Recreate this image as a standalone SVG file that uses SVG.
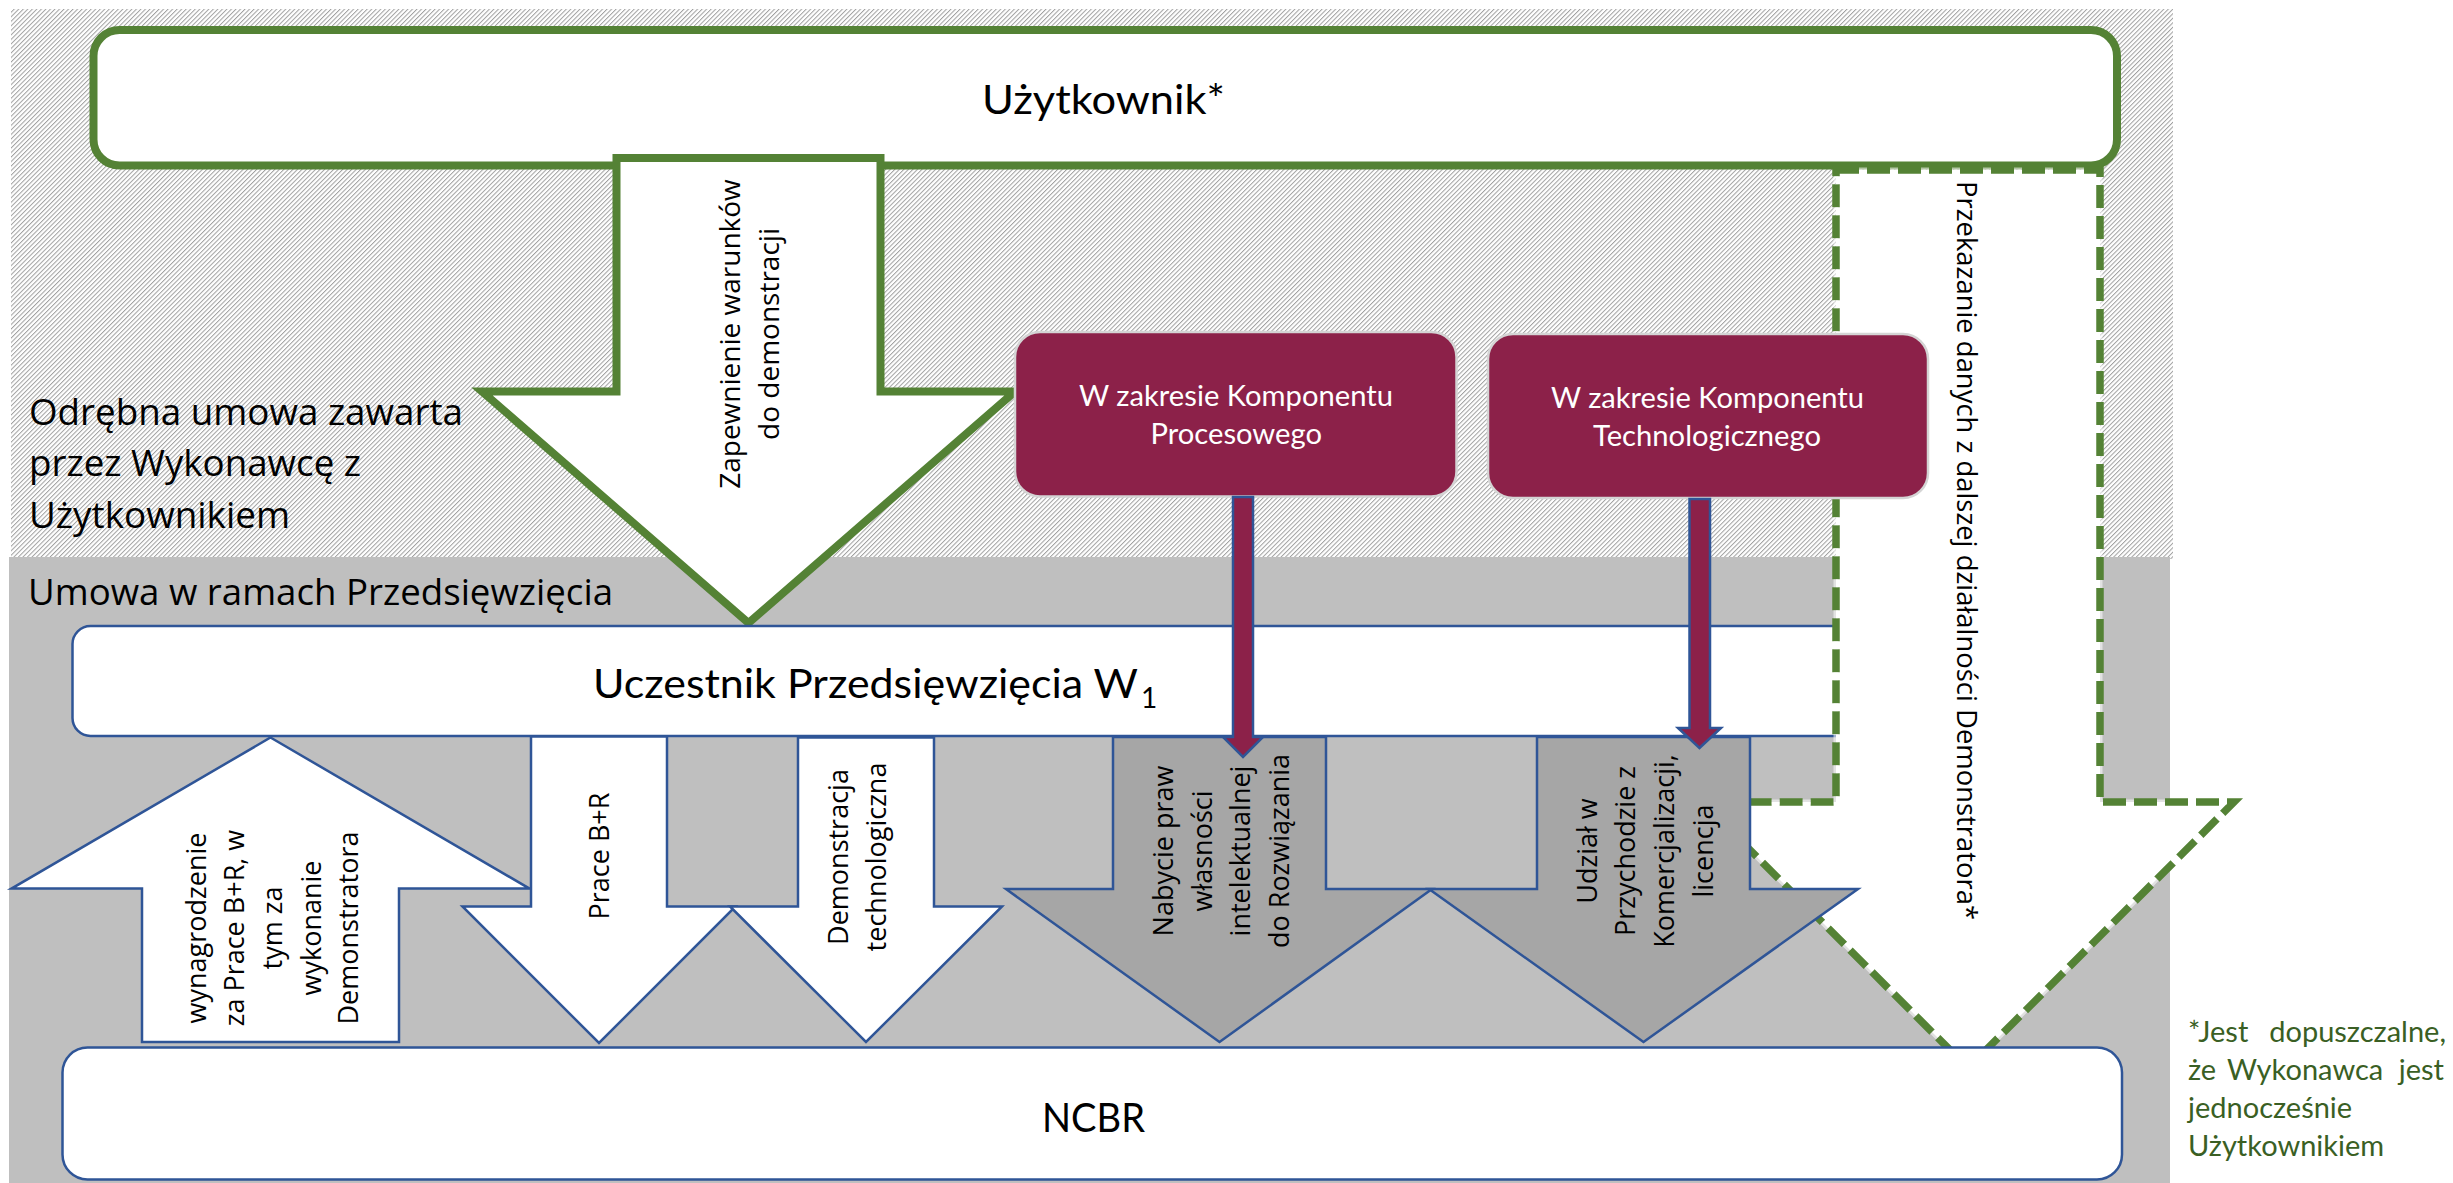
<svg xmlns="http://www.w3.org/2000/svg" width="2453" height="1183" viewBox="0 0 2453 1183">
<defs>
<pattern id="hatch" width="3.2" height="3.2" patternUnits="userSpaceOnUse" patternTransform="rotate(45)">
<rect width="3.2" height="3.2" fill="#fff"/>
<line x1="0.5" y1="0" x2="0.5" y2="3.2" stroke="#a0a0a0" stroke-width="1"/>
</pattern>
</defs>
<style>
.green{fill:#fff;stroke:#548235;stroke-width:8}
.dash{fill:#fff;stroke:#548235;stroke-width:7.5;stroke-dasharray:23 8}
.dashbg{fill:none;stroke:#fff;stroke-opacity:0.55;stroke-width:5;stroke-dasharray:0 23 8 0}
.blue{stroke:#2F5597;stroke-width:2.5}
.w{fill:#fff}
.dg{fill:#A6A6A6}
.mag{fill:#8C2149;stroke:#D4D4D4;stroke-width:2.5}
.magarr{fill:#8C2149;stroke:#2F5597;stroke-width:2.5}
.os{font-family:"Open Sans","DejaVu Sans",sans-serif;fill:#000}
.lbl{font-size:27px}
.cal{font-family:Lato,"Liberation Sans",sans-serif;fill:#000}
.big{font-size:41px}
.wt{fill:#fff;font-size:28px}
.fn{fill:#3A5F24;font-size:29px}
</style>
<rect x="0" y="0" width="2453" height="1183" fill="#fff"/>
<g id="background">
<rect x="11" y="9" width="2162" height="550" fill="url(#hatch)"/>
<rect x="9" y="557" width="2161" height="626" fill="#BFBFBF"/>
<g class="os" font-size="36.5">
<text x="29" y="425" textLength="434" lengthAdjust="spacingAndGlyphs">Odrębna umowa zawarta</text>
<text x="29" y="476" textLength="332" lengthAdjust="spacingAndGlyphs">przez Wykonawcę z</text>
<text x="29" y="528" textLength="261" lengthAdjust="spacingAndGlyphs">Użytkownikiem</text>
<text x="28" y="605" font-size="36" textLength="585" lengthAdjust="spacingAndGlyphs">Umowa w ramach Przedsięwzięcia</text>
</g>
</g>
<g id="uzytkownik">
<rect class="green" x="93.5" y="30" width="2023.5" height="135.5" rx="26" ry="26"/>
<text class="cal big" x="982" y="114" textLength="243" lengthAdjust="spacingAndGlyphs">Użytkownik*</text>
</g>
<g id="connectors-upper">
<g id="arrow-zapewnienie">
<polygon class="green" points="616.5,158 880.5,158 880.5,391.5 1015,391.5 748.5,623 482,391.5 616.5,391.5"/>
<g transform="translate(740,334) rotate(-90)" class="os" font-size="28" text-anchor="middle">
<text x="0" y="0">Zapewnienie warunków</text>
<text x="0" y="39">do demonstracji</text>
</g>
</g>
</g>
<g id="uczestnik">
<rect class="w blue" x="72.5" y="626" width="1890" height="110" rx="18" ry="18"/>
<text class="cal big" x="593" y="698" textLength="545" lengthAdjust="spacingAndGlyphs">Uczestnik Przedsięwzięcia W</text>
<text class="cal" x="1141" y="708" font-size="28">1</text>
</g>
<g id="connector-przekazanie">
<polygon class="dash" points="1836,170 2100,170 2100,802 2234,802 1968,1068 1702,802 1836,802"/>
<polygon class="dashbg" points="1836,170 2100,170 2100,802 2234,802 1968,1068 1702,802 1836,802"/>
<g transform="translate(1957,550.5) rotate(90)" class="os" font-size="28" text-anchor="middle">
<text x="0" y="0" textLength="739" lengthAdjust="spacingAndGlyphs">Przekazanie danych z dalszej działalności Demonstratora*</text>
</g>
</g>
<g id="komponent-procesowy">
<rect class="mag" x="1015" y="332" width="441.5" height="164.5" rx="25" ry="25"/>
<text class="cal wt" x="1079" y="406" textLength="314" lengthAdjust="spacingAndGlyphs">W zakresie Komponentu</text>
<text class="cal wt" x="1150.5" y="444" textLength="171.5" lengthAdjust="spacingAndGlyphs">Procesowego</text>
</g>
<g id="komponent-technologiczny">
<rect class="mag" x="1488" y="334" width="440" height="164" rx="25" ry="25"/>
<text class="cal wt" x="1551" y="408" textLength="313" lengthAdjust="spacingAndGlyphs">W zakresie Komponentu</text>
<text class="cal wt" x="1593" y="446" textLength="228" lengthAdjust="spacingAndGlyphs">Technologicznego</text>
</g>
<g id="connectors-lower">
<g id="arrow-wynagrodzenie">
<polygon class="w blue" points="270.5,737.5 529.5,888.6 399,888.6 399,1042 142,1042 142,888.6 11.5,888.6"/>
<g transform="translate(206,928) rotate(-90)" class="os lbl" text-anchor="middle">
<text x="0" y="0">wynagrodzenie</text>
<text x="0" y="38">za Prace B+R, w</text>
<text x="0" y="76">tym za</text>
<text x="0" y="115">wykonanie</text>
<text x="0" y="152">Demonstratora</text>
</g>
</g>
<g id="arrow-prace">
<polygon class="w blue" points="531,736.5 667,736.5 667,906.5 735.5,906.5 599,1043 462.5,906.5 531,906.5"/>
<g transform="translate(609,856) rotate(-90)" class="os lbl" text-anchor="middle">
<text x="0" y="0">Prace B+R</text>
</g>
</g>
<g id="arrow-demonstracja">
<polygon class="w blue" points="798,737.5 934,737.5 934,906.5 1002,906.5 866,1042 730,906.5 798,906.5"/>
<g transform="translate(848,857) rotate(-90)" class="os lbl" text-anchor="middle">
<text x="0" y="0">Demonstracja</text>
<text x="0" y="38">technologiczna</text>
</g>
</g>
<g id="arrow-nabycie">
<polygon class="dg blue" points="1113,737 1326,737 1326,889 1432,889 1219.5,1042 1006,889 1113,889"/>
<g transform="translate(1173,851) rotate(-90)" class="os lbl" text-anchor="middle">
<text x="0" y="0">Nabycie praw</text>
<text x="0" y="39">własności</text>
<text x="0" y="77">intelektualnej</text>
<text x="0" y="116">do Rozwiązania</text>
</g>
</g>
<g id="arrow-udzial">
<polygon class="dg blue" points="1537,737 1750,737 1750,889 1858,889 1643.5,1042 1429,889 1537,889"/>
<g transform="translate(1597,851) rotate(-90)" class="os lbl" text-anchor="middle">
<text x="0" y="0">Udział w</text>
<text x="0" y="38">Przychodzie z</text>
<text x="0" y="77">Komercjalizacji,</text>
<text x="0" y="116">licencja</text>
</g>
</g>
<polygon id="arrow-procesowy" class="magarr" points="1233,497 1253,497 1253,737 1263,737 1243,757 1223,737 1233,737"/>
<polygon id="arrow-technologiczny" class="magarr" points="1689.5,499 1710,499 1710,728 1721,728 1699.5,748 1678,728 1689.5,728"/>
</g>
<g id="ncbr">
<rect class="w blue" x="62.5" y="1047.5" width="2059.5" height="132" rx="25" ry="25"/>
<text class="cal big" x="1042" y="1132" textLength="103" lengthAdjust="spacingAndGlyphs">NCBR</text>
</g>
<g id="footnote" class="cal fn">
<text x="2188" y="1042">*Jest</text>
<text x="2446" y="1042" text-anchor="end">dopuszczalne,</text>
<text x="2188" y="1080">że</text>
<text x="2227" y="1080">Wykonawca</text>
<text x="2444" y="1080" text-anchor="end">jest</text>
<text x="2188" y="1118">jednocześnie</text>
<text x="2188" y="1156">Użytkownikiem</text>
</g>
</svg>
